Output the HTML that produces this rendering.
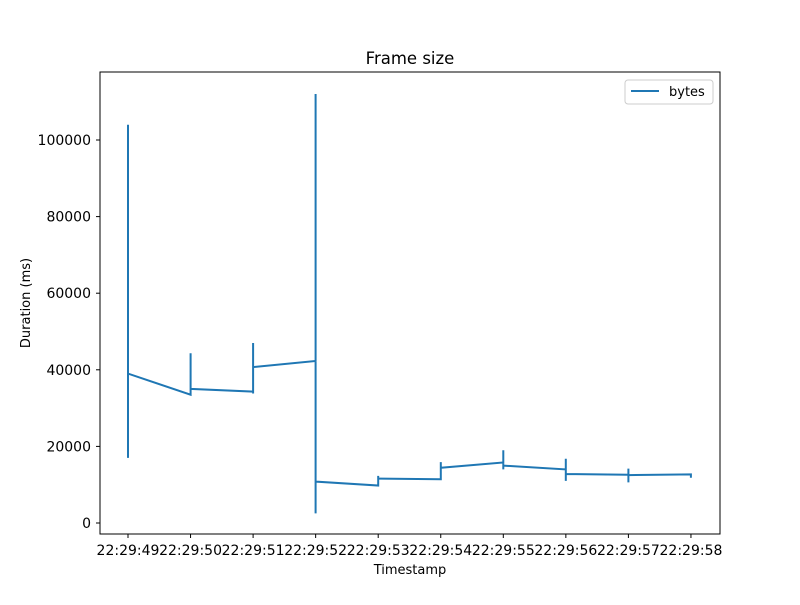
<!DOCTYPE html>
<html><head><meta charset="utf-8"><style>
body{margin:0;background:#fff;font-family:"Liberation Sans","DejaVu Sans",sans-serif}
text{font-family:"DejaVu Sans","Liberation Sans",sans-serif}
</style></head><body>
<svg id="chart" width="800" height="600">
<rect width="800" height="600" fill="#fff"/>
<text x="410" y="64" font-size="16.5" text-anchor="middle">Frame size</text>
<g id="grid"></g>
<path id="line" fill="none" stroke="#1f77b4" stroke-width="2" stroke-linejoin="miter"/>
<rect x="100" y="72" width="620" height="462" fill="none" stroke="#000" stroke-width="1"/>
<text x="410" y="574" font-size="13" text-anchor="middle">Timestamp</text>
<text transform="translate(30,303) rotate(-90)" font-size="13" text-anchor="middle">Duration (ms)</text>
<g>
<rect x="625" y="80" width="88" height="24" rx="3" fill="#fff" stroke="#ccc"/>
<line x1="631" y1="91" x2="659" y2="91" stroke="#1f77b4" stroke-width="2"/>
<text x="669" y="96" font-size="13">bytes</text>
</g>
</svg>
<script>
const seconds = ["22:29:49","22:29:50","22:29:51","22:29:52","22:29:53","22:29:54","22:29:55","22:29:56","22:29:57","22:29:58"];
const clusters = [
 [104000,17000,39000],
 [33500,44300,35000],
 [34300,33800,47000,40700],
 [42300,112000,2500,10800],
 [9800,12300,11600],
 [11400,15900,14400],
 [15800,19000,14000,15000],
 [14000,11000,16800,12800],
 [12600,10600,14200,12500],
 [12700,11800,12700]
];
const yTicks = [0,20000,40000,60000,80000,100000];
const X = i => 128 + i*62.55;
const Y = v => 523 - v*383/100000;
const ns="http://www.w3.org/2000/svg";
const g=document.getElementById('grid');
seconds.forEach((s,i)=>{
 const l=document.createElementNS(ns,'line');
 l.setAttribute('x1',X(i));l.setAttribute('x2',X(i));l.setAttribute('y1',534);l.setAttribute('y2',538);l.setAttribute('stroke','#000');
 
 
 g.appendChild(l);
 const t=document.createElementNS(ns,'text');
 t.setAttribute('x',X(i));t.setAttribute('y',555);t.setAttribute('font-size','14');t.setAttribute('text-anchor','middle');
 t.textContent=s;
 
 
 g.appendChild(t);
});
yTicks.forEach(v=>{
 const l=document.createElementNS(ns,'line');
 l.setAttribute('x1',96);l.setAttribute('x2',100);l.setAttribute('y1',Y(v));l.setAttribute('y2',Y(v));l.setAttribute('stroke','#000');
 
 
 g.appendChild(l);
 const t=document.createElementNS(ns,'text');
 t.setAttribute('x',91);t.setAttribute('y',Y(v)+5);t.setAttribute('font-size','14');t.setAttribute('text-anchor','end');
 t.textContent=v;
 
 
 g.appendChild(t);
});
let d='';
clusters.forEach((c,i)=>c.forEach(v=>{d+=(d?'L':'M')+X(i).toFixed(1)+','+Y(v).toFixed(1);}));
document.getElementById('line').setAttribute('d',d);
</script>
</body></html>
